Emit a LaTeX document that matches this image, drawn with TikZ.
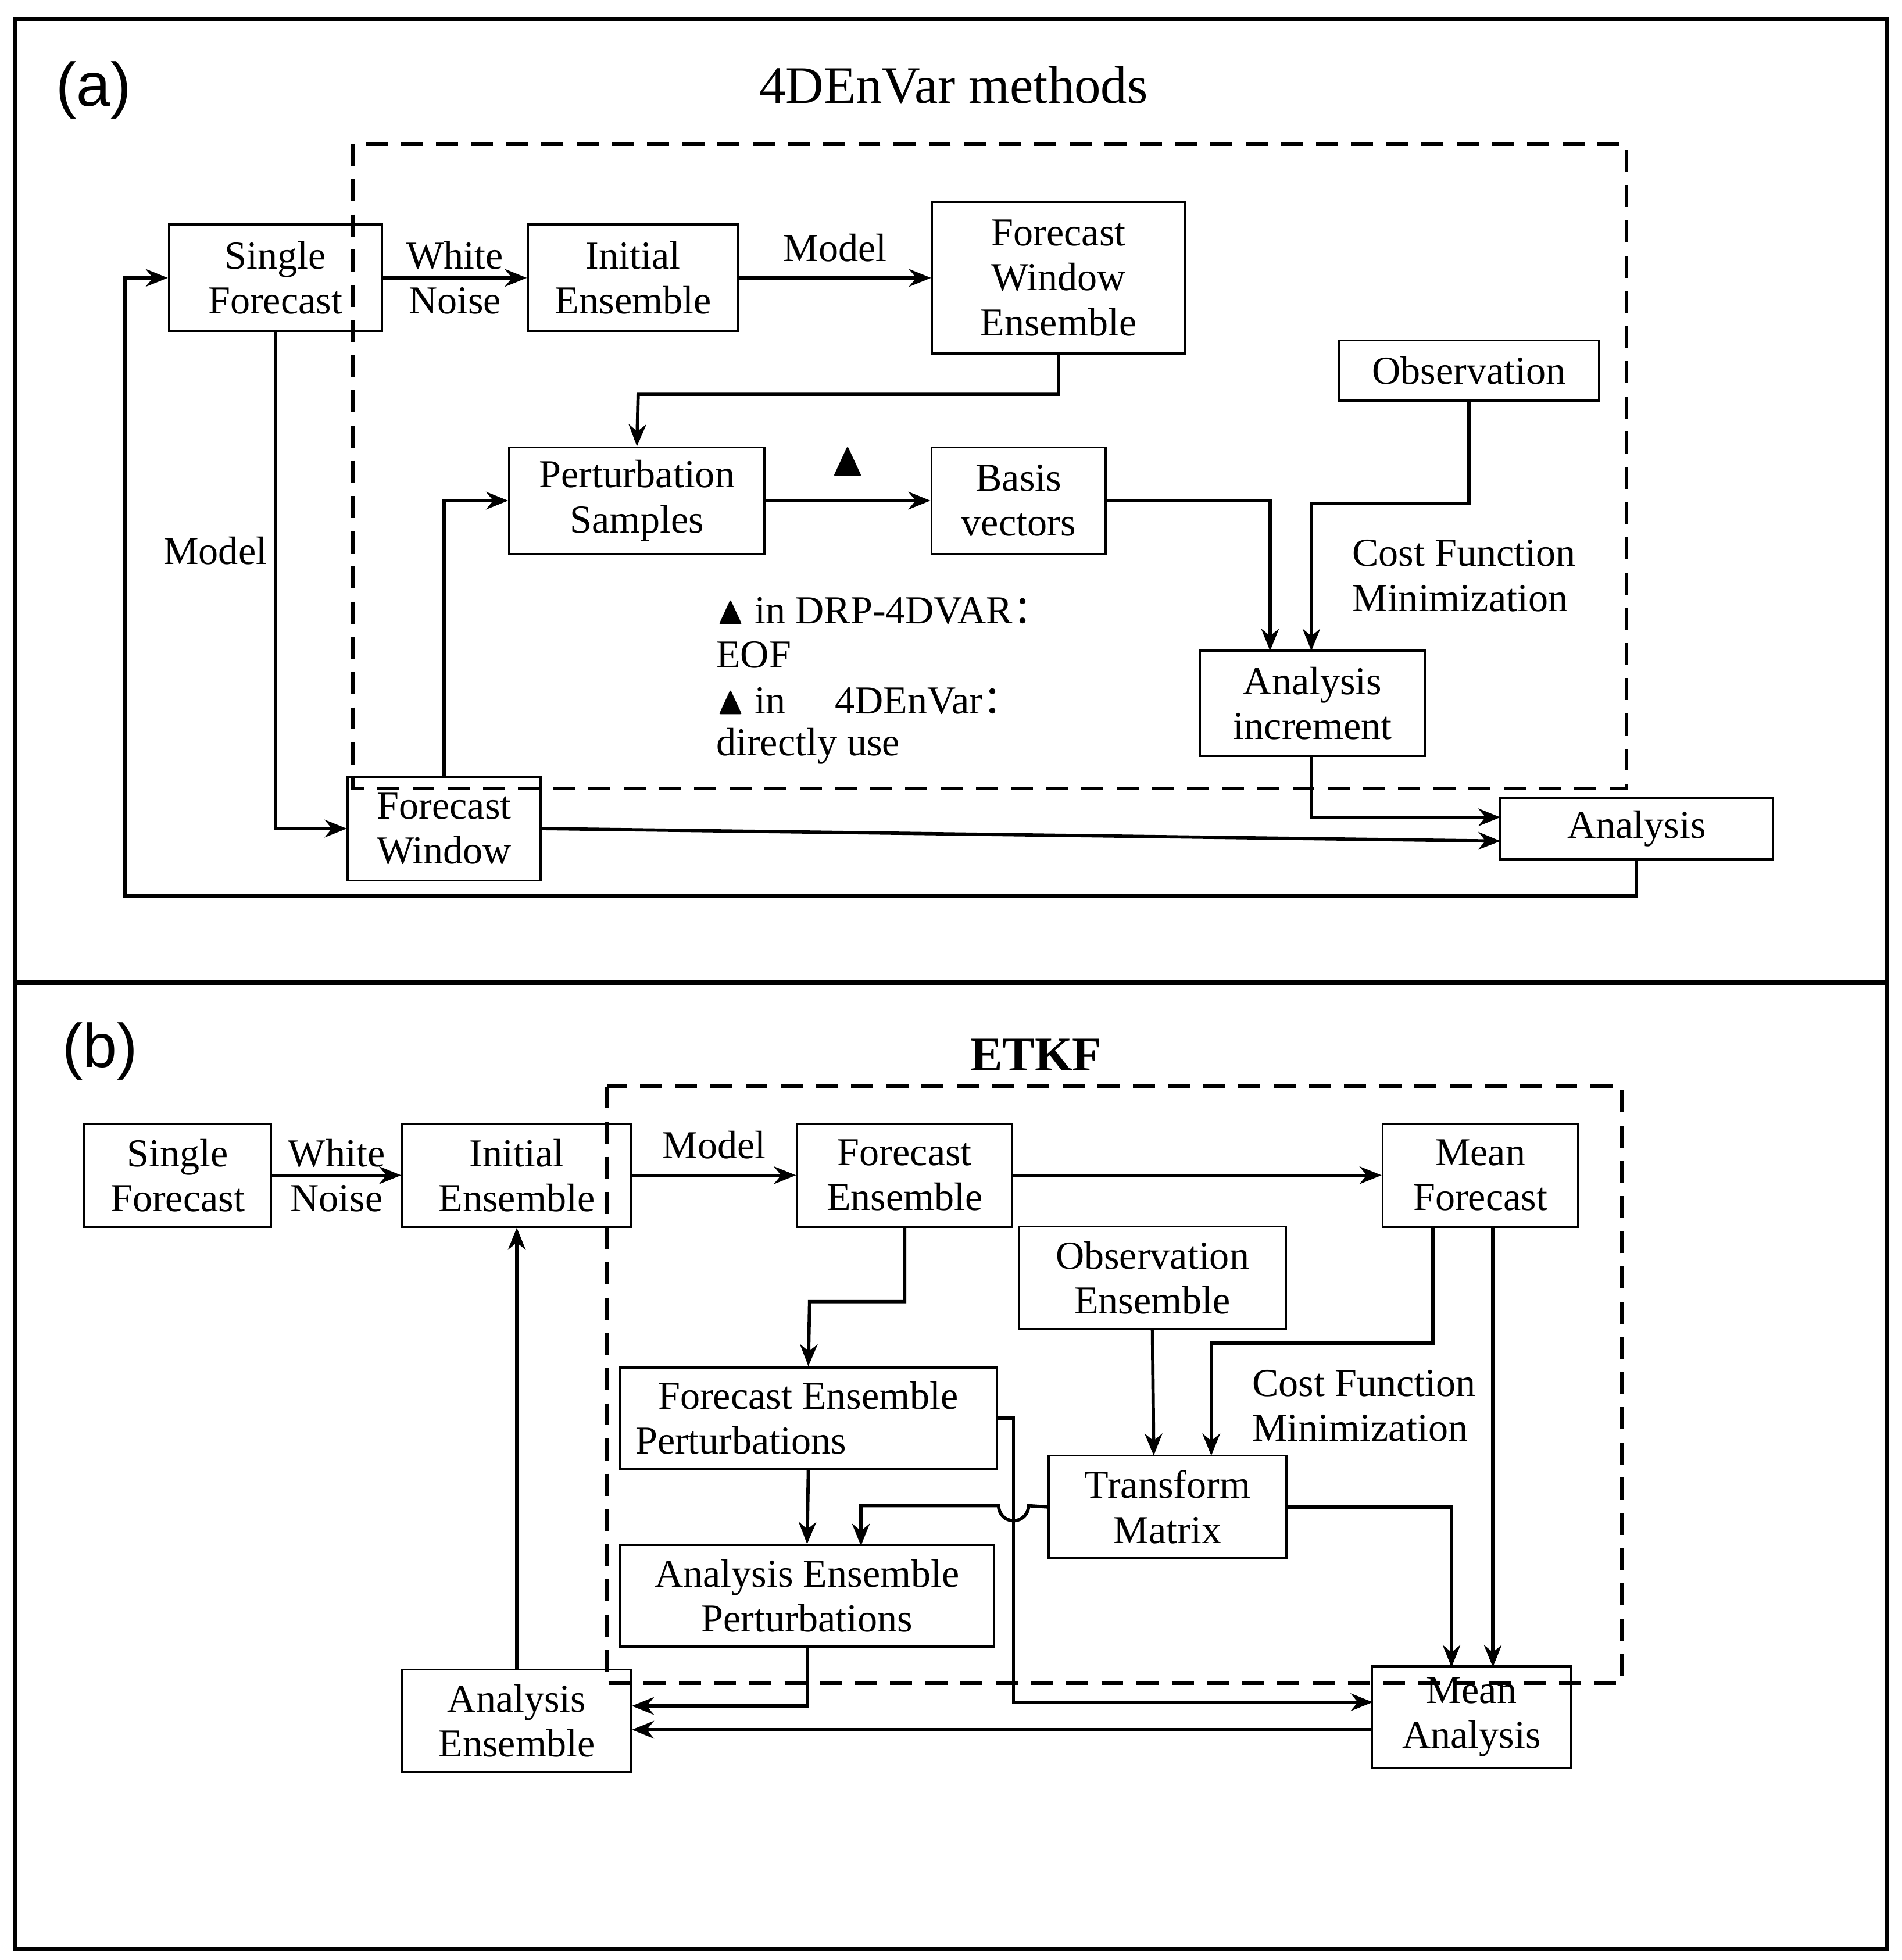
\documentclass[tikz,border=0pt]{standalone}
\usepackage{amssymb}
\usepackage{fontspec}
\setmainfont{Liberation Serif}
\newfontfamily\sansf{Liberation Sans}
\newfontfamily\cjkf{Noto Sans CJK SC}
\usetikzlibrary{arrows.meta}
\begin{document}
\begin{tikzpicture}[x=0.01cm,y=-0.01cm,
 box/.style={draw,line width=0.5pt,align=center,inner sep=0pt,font=\fontsize{9}{10.2}\selectfont},
 lab/.style={align=left,font=\fontsize{9}{10.2}\selectfont},
 ar/.style={line width=0.75pt,-{Stealth[length=5pt,width=4pt]}},
 dsh/.style={line width=0.8pt,dash pattern=on 5pt off 3pt}]
\useasboundingbox (0,0) rectangle (1520,1566);
\draw[line width=1pt] (12,15) rectangle (1508,1557);
\draw[line width=1pt] (12,785) -- (1508,785);
\node[font=\sansf\fontsize{14}{16}\selectfont] at (75,72) {(a)};
\node[font=\sansf\fontsize{14}{16}\selectfont] at (80,840) {(b)};
% ---------- (a)
\node[font=\fontsize{12}{14}\selectfont] (ta) at (762,68) {4DEnVar methods};
\draw[dsh] (282,115) rectangle (1300,630);
\node[box,minimum width=1.7cm,minimum height=0.85cm] (sf) at (220,222) {Single\\Forecast};
\node[box,minimum width=1.68cm,minimum height=0.85cm] (ie) at (506,222) {Initial\\Ensemble};
\node[box,minimum width=2.02cm,minimum height=1.21cm] (fwe) at (846,222) {Forecast\\Window\\Ensemble};
\node[box,minimum width=2.08cm,minimum height=0.48cm] (obs) at (1174,296) {Observation};
\node[box,minimum width=2.04cm,minimum height=0.85cm] (ps) at (509,400) {Perturbation\\Samples};
\node[box,minimum width=1.39cm,minimum height=0.85cm] (bv) at (814,400) {Basis\\vectors};
\node[box,minimum width=1.8cm,minimum height=0.84cm] (ai) at (1049,562) {Analysis\\increment};
\node[box,minimum width=1.54cm,minimum height=0.83cm] (fw) at (355,662) {Forecast\\Window};
\node[box,minimum width=2.18cm,minimum height=0.49cm] (an) at (1308,662) {Analysis};
\draw[ar] (sf) -- node[lab,align=center] {White\\Noise} (ie);
\draw[ar] (ie) -- node[lab,above] {Model} (fwe);
\draw[ar] (fwe.south) |- (510,315) -- (ps.north);
\draw[ar] (ps) -- node[above=2pt,font=\fontsize{11}{11}\selectfont] {$\blacktriangle$} (bv);
\draw[ar] (bv.east) -| (1015,520);
\draw[ar] (obs.south) |- (1048,402) -- (1048,520);
\node[lab] (cf) at (1170,460) {Cost Function\\Minimization};
\draw[ar] (sf.south) |- (fw.west);
\node[lab] (m1) at (172,440) {Model};
\draw[ar] (fw.north) |- (ps.west);
\draw[ar] (1048,604) |- (1199,653);
\draw[ar] (fw.east) -- (1199,672);
\draw[ar] (an.south) |- (100,716) |- (sf.west);
\node[lab,anchor=west] (t1) at (560,488) {$\blacktriangle$ in DRP-4DVAR{\cjkf ：}};
\node[lab,anchor=west] (t2) at (560,523) {EOF};
\node[lab,anchor=west] (t3) at (560,560) {$\blacktriangle$ in\quad\ 4DEnVar{\cjkf ：}};
\node[lab,anchor=west] (t4) at (560,596) {directly use};
% ---------- (b)
\node[font=\bfseries\fontsize{11}{13}\selectfont] (tb) at (828,843) {ETKF};
\draw[dsh] (485,868) rectangle (1296,1345);
\node[box,minimum width=1.49cm,minimum height=0.82cm] (bsf) at (142,939) {Single\\Forecast};
\node[box,minimum width=1.83cm,minimum height=0.82cm] (bie) at (413,939) {Initial\\Ensemble};
\node[box,minimum width=1.72cm,minimum height=0.82cm] (bfe) at (723,939) {Forecast\\Ensemble};
\node[box,minimum width=1.56cm,minimum height=0.82cm] (bmf) at (1183,939) {Mean\\Forecast};
\node[box,minimum width=2.13cm,minimum height=0.82cm] (boe) at (921,1021) {Observation\\Ensemble};
\node[box,minimum width=3.01cm,minimum height=0.81cm] (fep) at (646,1133) {Forecast Ensemble\\Perturbations\hspace*{3.4em}};
\node[box,minimum width=1.9cm,minimum height=0.82cm] (tm) at (933,1204) {Transform\\Matrix};
\node[box,minimum width=2.99cm,minimum height=0.81cm] (aep) at (645,1275) {Analysis Ensemble\\Perturbations};
\node[box,minimum width=1.83cm,minimum height=0.82cm] (bae) at (413,1375) {Analysis\\Ensemble};
\node[box,minimum width=1.59cm,minimum height=0.81cm] (bma) at (1176,1372) {Mean\\Analysis};
\draw[ar] (bsf) -- node[lab,align=center] {White\\Noise} (bie);
\draw[ar] (bie) -- node[lab,above] {Model} (bfe);
\draw[ar] (bfe) -- (bmf);
\draw[ar] (bfe.south) |- (647,1040) -- (fep.north);
\draw[ar] (boe.south) -- (922,1163);
\draw[ar] (1145,980) |- (968,1073) -- (968,1163);
\node[lab] (cf2) at (1090,1123) {Cost Function\\Minimization};
\draw[ar] (1193,980) -- (1193,1332);
\draw[ar] (tm.east) -| (1160,1332);
\draw[ar] (fep.south) -- (aep.north);
\draw[ar] (tm.west) -- (822,1203) arc[start angle=0,end angle=180,radius=12] -- (688,1203) -- (688,1235);
\draw[ar] (797,1133) -| (810,1360) -- (1097,1360);
\draw[ar] (aep.south) |- (505,1363);
\draw[ar] (1097,1382) -- (505,1382);
\draw[ar] (bae.north) -- (bie.south);
\end{tikzpicture}
\end{document}
